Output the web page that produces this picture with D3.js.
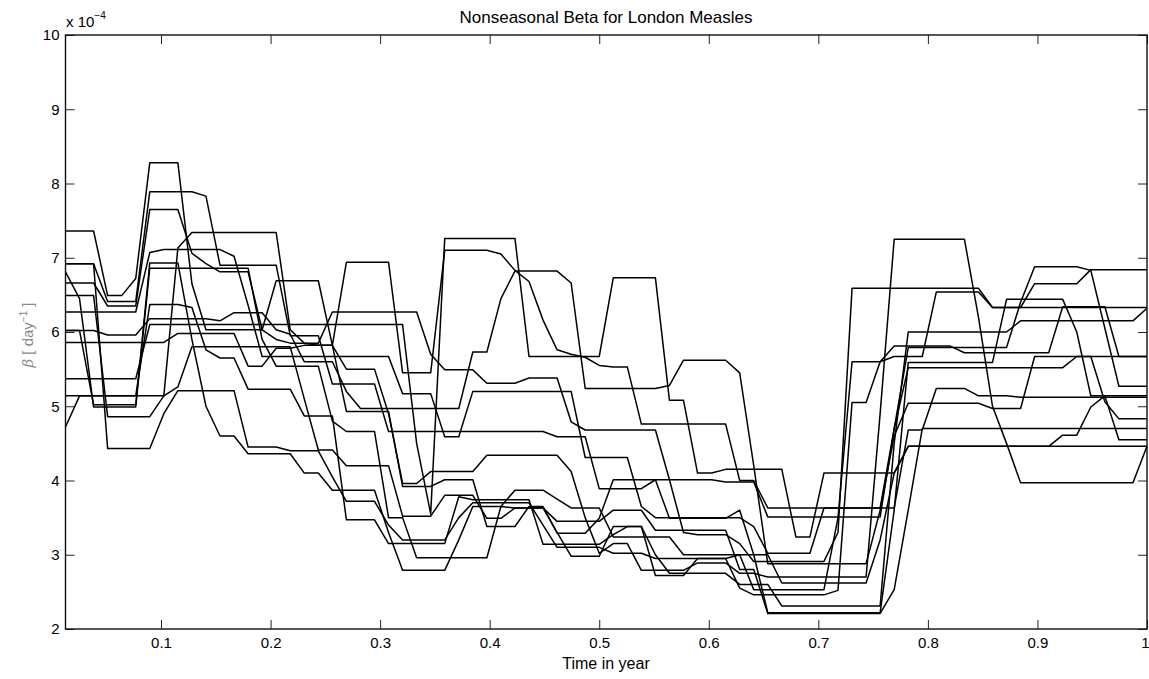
<!DOCTYPE html>
<html><head><meta charset="utf-8">
<script src="https://cdn.jsdelivr.net/npm/d3@7"></script>
<style>
body{margin:0;background:#fff;}
text{font-family:"Liberation Sans",Arial,Helvetica,sans-serif;}
</style>
</head><body>
<svg id="chart" width="1149" height="679"></svg>
<script>
// time grid: weekly-ish steps, k/78 of a year (k = 1..78)
const stepsPerYear = 78;
const stepIndex = d3.range(1, stepsPerYear + 1);
const xTicks = [0.1,0.2,0.3,0.4,0.5,0.6,0.7,0.8,0.9,1];
const xTickLabels = ["0.1","0.2","0.3","0.4","0.5","0.6","0.7","0.8","0.9","1"];
const yTicks = [2,3,4,5,6,7,8,9,10];
const yTickLabels = ["2","3","4","5","6","7","8","9","10"];
const titleText = "Nonseasonal Beta for London Measles";
const xLabelText = "Time in year";

// beta values (units of 1e-4 per day), one value per time step
const run01 = [7.36,7.36,7.36,6.49,6.49,6.72,8.28,8.28,8.28,6.65,
 6.03,6.03,6.03,6.03,6.03,6.69,6.69,6.69,6.69,5.82,
 6.94,6.94,6.94,6.94,5.45,5.45,5.45,7.10,7.10,7.10,
 7.10,7.05,6.83,6.68,6.16,5.76,5.70,5.66,5.55,5.53,
 5.53,4.76,4.76,4.76,4.76,4.76,4.76,4.76,4.00,4.00,
 3.63,3.63,3.63,3.63,3.63,3.63,3.63,3.63,3.63,3.63,
 4.68,4.68,5.24,5.24,5.24,5.14,5.14,5.14,5.12,5.12,
 5.12,5.12,5.12,5.12,5.12,5.12,5.12,5.12];
const run02 = [6.92,6.92,6.92,6.41,6.41,6.41,7.89,7.89,7.89,7.89,
 7.83,6.90,6.90,6.90,6.90,6.90,5.95,5.95,5.95,5.30,
 5.30,5.30,5.30,4.66,4.66,4.66,4.66,4.66,4.66,4.66,
 4.66,4.66,4.66,4.66,4.66,4.59,4.59,4.59,3.89,3.89,
 3.89,3.89,4.01,4.01,4.01,4.01,4.01,3.98,3.98,3.98,
 3.51,3.51,3.51,3.51,3.51,3.51,3.51,3.51,3.51,4.70,
 5.52,5.52,5.52,5.52,5.52,5.52,5.52,5.52,5.52,5.52,
 5.52,5.52,5.67,5.67,5.67,5.67,5.67,5.67];
const run03 = [6.66,6.66,6.66,6.35,6.35,6.35,7.65,7.65,7.65,7.06,
 6.92,6.81,6.81,6.81,6.03,5.90,5.85,5.85,5.85,6.27,
 6.27,6.27,6.27,6.27,6.27,6.27,5.70,5.49,5.49,5.49,
 5.31,5.31,5.31,5.38,5.38,5.38,4.79,4.68,4.68,4.68,
 4.68,4.68,4.68,4.01,3.30,3.27,3.27,3.27,3.15,2.91,
 2.91,2.91,2.91,2.91,2.91,3.30,6.59,6.59,6.59,6.59,
 6.59,6.59,6.59,6.59,6.59,6.59,6.33,6.33,6.33,6.33,
 6.33,6.33,6.33,6.33,6.33,6.33,6.33,6.33];
const run04 = [6.27,6.27,6.27,6.27,6.27,6.27,7.07,7.11,7.11,7.11,
 7.11,7.11,7.02,6.36,5.67,5.67,5.67,5.67,5.67,5.67,
 5.67,5.67,5.67,5.67,5.17,5.17,5.17,4.59,4.59,5.20,
 5.20,5.20,5.20,5.20,5.20,5.20,5.20,4.31,4.31,4.31,
 4.31,3.65,3.50,3.50,3.50,3.50,3.50,3.50,3.50,3.38,
 3.02,3.02,3.02,3.02,3.63,3.63,3.63,3.63,3.63,4.70,
 5.79,5.79,5.79,5.79,5.79,5.79,5.79,5.79,6.40,6.88,
 6.88,6.88,6.88,6.83,6.05,5.27,5.27,5.27];
const run05 = [6.02,6.02,6.02,5.96,5.96,5.96,6.18,6.18,6.18,6.18,
 6.18,6.15,6.26,6.26,6.26,6.03,5.97,5.60,5.60,5.60,
 5.20,4.97,4.97,4.97,4.97,4.97,4.97,4.97,4.97,5.73,
 5.73,6.45,6.82,6.82,6.82,6.82,6.66,5.24,5.24,5.24,
 5.24,5.24,5.24,5.28,5.62,5.62,5.62,5.62,5.45,4.20,
 2.88,2.88,2.88,2.88,2.88,2.88,2.88,2.88,3.60,4.60,
 5.04,5.04,5.04,5.04,5.04,5.04,4.97,4.97,4.97,5.67,
 5.67,5.67,5.67,5.67,5.06,4.83,4.83,4.83];
const run06 = [5.86,5.86,5.86,5.86,5.86,5.86,5.86,5.86,5.98,5.98,
 5.98,5.98,5.98,5.54,5.54,5.78,5.78,5.82,5.82,5.82,
 5.50,5.50,5.50,4.90,3.96,3.96,4.12,4.12,4.12,4.12,
 4.34,4.34,4.34,4.34,4.34,4.34,4.12,3.50,3.02,3.15,
 3.15,2.79,2.79,2.79,2.79,2.89,2.89,2.89,2.75,2.75,
 2.70,2.70,2.70,2.70,2.70,2.70,2.70,2.70,4.90,7.25,
 7.25,7.25,7.25,7.25,7.25,6.20,5.00,4.50,3.97,3.97,
 3.97,3.97,3.97,3.97,3.97,3.97,3.97,4.46];
const run07 = [5.37,5.37,5.37,5.37,5.37,5.37,6.10,6.10,6.10,6.10,
 6.10,6.10,6.10,6.10,6.10,6.10,6.10,6.10,6.10,6.10,
 6.10,6.10,6.10,6.10,6.10,4.50,3.55,7.26,7.26,7.26,
 7.26,7.26,7.26,5.67,5.67,5.67,5.67,5.67,5.67,6.73,
 6.73,6.73,6.73,5.08,5.08,4.10,4.10,4.15,4.15,4.15,
 4.15,4.15,3.24,3.24,4.10,4.10,4.10,4.10,4.10,4.10,
 4.46,4.46,4.46,4.46,4.46,4.46,4.46,4.46,4.46,4.46,
 4.46,4.61,4.61,4.99,5.14,4.55,4.55,4.55];
const run08 = [5.14,5.14,5.14,5.14,5.14,5.14,6.37,6.37,6.37,6.33,
 5.76,5.65,5.65,5.23,5.23,5.23,5.23,4.87,4.87,4.87,
 3.47,3.47,3.47,3.15,3.15,3.15,3.15,3.15,3.78,3.74,
 3.74,3.74,3.74,3.74,3.14,3.14,3.14,3.14,3.14,3.27,
 3.38,3.38,2.72,2.72,2.72,2.95,2.95,2.95,2.55,2.46,
 2.46,2.46,2.46,2.46,2.46,2.52,5.05,5.05,5.60,5.67,
 5.67,5.67,6.54,6.54,6.54,6.54,6.33,6.33,6.33,6.65,
 6.65,6.65,6.65,6.84,6.84,6.84,6.84,6.84];
const run09 = [4.72,5.14,5.14,5.14,5.14,5.14,5.14,5.14,7.13,7.34,
 7.34,7.34,7.34,7.34,7.34,7.34,6.03,5.85,5.82,5.82,
 4.93,4.93,4.93,4.93,3.92,3.92,3.92,4.01,4.01,4.01,
 3.38,3.38,3.38,3.65,3.65,3.29,3.29,3.29,3.49,4.01,
 4.01,4.01,4.01,3.49,3.49,3.49,3.49,3.49,3.60,3.00,
 2.22,2.22,2.22,2.22,2.22,2.22,2.22,2.22,2.22,3.60,
 5.59,5.59,5.59,5.59,5.59,5.59,5.59,6.44,6.44,6.44,
 6.44,6.44,6.00,5.14,5.14,5.14,5.14,5.14];
const run10 = [6.02,6.02,5.02,5.02,5.02,5.02,6.93,6.93,6.93,5.90,
 5.00,4.60,4.60,4.36,4.36,4.36,4.36,4.10,4.10,3.87,
 3.87,3.87,3.87,3.30,2.79,2.79,2.79,2.79,3.20,3.65,
 3.65,3.65,3.87,3.87,3.87,3.75,3.63,3.63,3.63,3.24,
 3.24,3.24,3.24,3.24,3.00,3.00,3.00,3.00,3.00,2.53,
 2.53,2.53,2.53,2.53,2.53,3.50,5.60,5.60,5.60,5.81,
 5.81,5.81,5.81,5.81,5.72,5.72,5.72,5.72,5.72,5.72,
 5.72,6.34,6.34,6.34,6.34,5.67,5.67,5.67];
const run11 = [6.81,6.45,4.99,4.99,4.99,4.99,6.86,6.86,6.86,6.86,
 6.86,6.86,6.86,6.86,5.90,5.54,5.54,5.54,5.54,4.80,
 4.66,4.66,4.66,3.50,3.50,2.96,2.96,2.96,2.96,2.96,
 2.96,3.65,3.63,3.63,3.63,3.30,2.98,2.98,2.98,3.38,
 3.38,3.38,3.00,2.75,2.75,2.75,2.75,2.75,2.60,2.60,
 2.60,2.31,2.31,2.31,2.31,2.31,2.31,2.31,2.31,4.50,
 6.00,6.00,6.00,6.00,6.00,6.00,6.00,6.00,6.15,6.15,
 6.15,6.15,6.15,6.15,6.15,6.15,6.15,6.32];
const run12 = [6.49,6.49,6.49,4.86,4.86,4.86,4.86,5.14,5.26,5.80,
 5.80,5.80,5.80,5.80,5.80,5.80,5.80,5.10,4.41,4.41,
 4.20,4.20,4.20,4.20,3.52,3.52,3.52,3.80,3.80,3.80,
 3.49,3.49,3.63,3.63,3.63,3.45,3.45,3.45,3.45,3.60,
 3.60,3.60,3.33,3.33,3.33,3.33,3.33,3.33,2.80,2.80,
 2.21,2.21,2.21,2.21,2.21,2.21,2.21,2.21,2.21,2.53,
 3.60,4.70,4.70,4.70,4.70,4.70,4.70,4.70,4.70,4.70,
 4.70,4.70,4.70,4.70,4.70,4.70,4.70,4.70];
const run13 = [6.92,6.92,6.92,4.43,4.43,4.43,4.43,4.90,5.21,5.21,
 5.21,5.21,5.21,4.45,4.45,4.45,4.40,4.40,4.40,4.05,
 3.72,3.72,3.72,3.40,3.20,3.20,3.20,3.20,3.50,3.70,
 3.70,3.70,3.70,3.70,3.40,3.10,3.10,3.10,3.10,3.02,
 3.02,3.02,2.95,2.95,2.95,2.95,2.95,2.95,3.00,3.00,
 3.00,2.62,2.62,2.62,2.62,2.62,2.62,2.62,3.20,4.10,
 4.46,4.46,4.46,4.46,4.46,4.46,4.46,4.46,4.46,4.46,
 4.46,4.46,4.46,4.46,4.46,4.46,4.46,4.46];

const allRuns = [run01,run02,run03,run04,run05,run06,run07,run08,run09,run10,run11,run12,run13];

const svg = d3.select("#chart");
const L = 65.5, R = 1147, T = 35, B = 629;
const x = d3.scaleLinear().domain([1/stepsPerYear, 1]).range([L, R]);
const y = d3.scaleLinear().domain([2, 10]).range([B, T]);

// data lines
const line = d3.line().x((d,i) => x(stepIndex[i]/stepsPerYear)).y(d => y(d));
svg.append("g")
  .selectAll("path").data(allRuns).join("path")
  .attr("d", line)
  .attr("fill", "none")
  .attr("stroke", "#000")
  .attr("stroke-width", 1.5)
  .attr("stroke-linejoin", "round");

// axes with inward ticks (MATLAB style)
const fmtX = (d) => xTickLabels[xTicks.indexOf(d)];
const fmtY = (d) => yTickLabels[yTicks.indexOf(d)];
const gx = svg.append("g").attr("transform", `translate(0,${B})`)
  .call(d3.axisBottom(x).tickValues(xTicks).tickFormat(fmtX).tickSizeInner(-9).tickSizeOuter(0).tickPadding(8));
const gxt = svg.append("g").attr("transform", `translate(0,${T})`)
  .call(d3.axisTop(x).tickValues(xTicks).tickFormat("").tickSizeInner(-9).tickSizeOuter(0));
const gy = svg.append("g").attr("transform", `translate(${L},0)`)
  .call(d3.axisLeft(y).tickValues(yTicks).tickFormat(fmtY).tickSizeInner(-9).tickSizeOuter(0).tickPadding(6));
const gyr = svg.append("g").attr("transform", `translate(${R},0)`)
  .call(d3.axisRight(y).tickValues(yTicks).tickFormat("").tickSizeInner(-9).tickSizeOuter(0));
[gx,gxt,gy,gyr].forEach(g => {
  g.select(".domain").remove();
  g.selectAll("line").attr("stroke", "#222").attr("stroke-width", 1);
  g.selectAll("text").attr("fill", "#000").style("font-size", "15px")
   .style("font-family", '"Liberation Sans",Arial,Helvetica,sans-serif');
});
// keep the last x label ("1") inside the window
gx.selectAll(".tick").filter(d => d === 1).select("text").attr("dx", -2);

// frame
svg.append("rect").attr("x", L).attr("y", T).attr("width", R - L).attr("height", B - T)
  .attr("fill", "none").attr("stroke", "#111").attr("stroke-width", 1.4);

// exponent label
const ex = svg.append("text").attr("x", 66).attr("y", 27).style("font-size", "15px").attr("fill", "#000");
ex.append("tspan").text("x 10");
ex.append("tspan").attr("dy", -8).style("font-size", "10px").text("\u22124");

// title
svg.append("text").attr("x", 606).attr("y", 23).attr("text-anchor", "middle")
  .style("font-size", "17px").attr("fill", "#000").text(titleText);

// x label
svg.append("text").attr("x", 606).attr("y", 669).attr("text-anchor", "middle")
  .style("font-size", "16px").attr("fill", "#000").text(xLabelText);

// y label
const yl = svg.append("text").attr("transform", "translate(33,335) rotate(-90)")
  .attr("text-anchor", "middle").style("font-size", "15px").attr("fill", "#8a8a8a");
yl.append("tspan").style("font-family", '"DejaVu Serif","Liberation Serif",serif').style("font-style", "italic").text("\u03b2");
yl.append("tspan").text(" [ day");
yl.append("tspan").attr("dy", -6).style("font-size", "10px").text("\u22121");
yl.append("tspan").attr("dy", 6).text(" ]");
</script>
</body></html>
